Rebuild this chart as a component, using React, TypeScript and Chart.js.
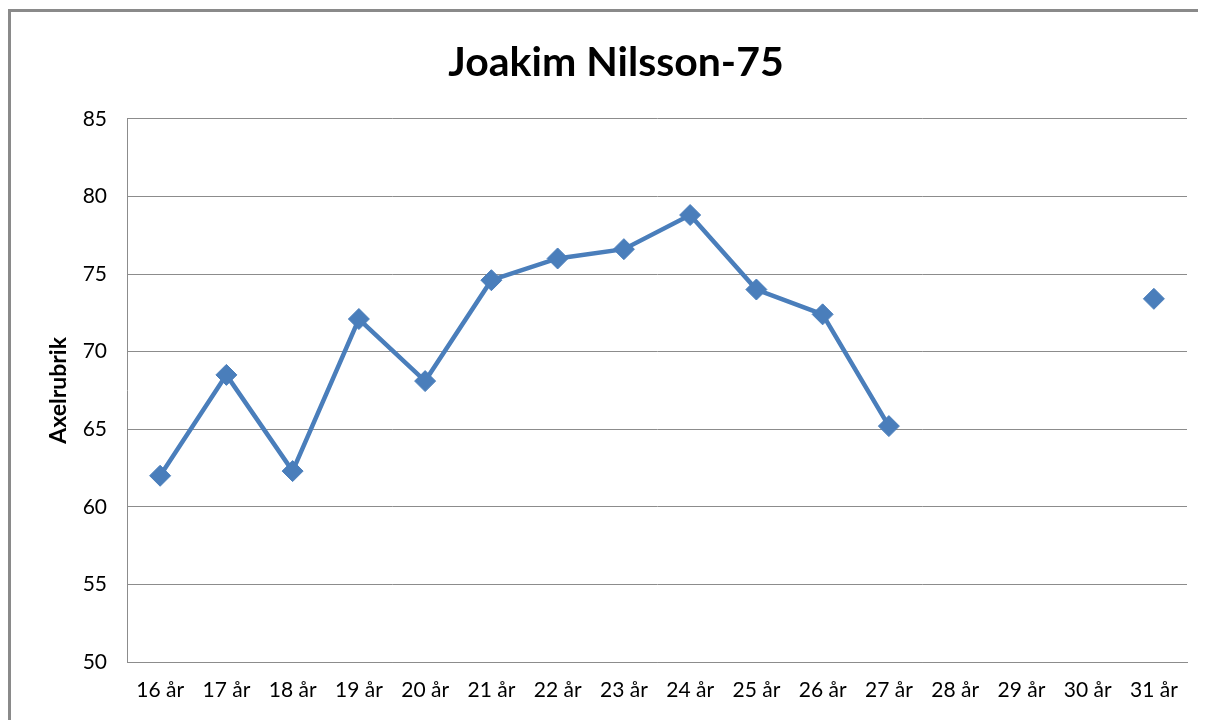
import React, { useEffect, useRef } from "react";
import { Chart, registerables } from "chart.js";

Chart.register(...registerables);

const categories = ["16 år", "17 år", "18 år", "19 år", "20 år", "21 år", "22 år", "23 år", "24 år", "25 år", "26 år", "27 år", "28 år", "29 år", "30 år", "31 år"];
const values: (number | null)[] = [62.0, 68.5, 62.3, 72.1, 68.1, 74.6, 76.0, 76.6, 78.8, 74.0, 72.4, 65.2, null, null, null, 73.4];
const yMin = 50;
const yMax = 85;
const yStep = 5;
const chartTitle = "Joakim Nilsson-75";
const yTitle = "Axelrubrik";

const FONT = "Lato, 'Open Sans', sans-serif";

export default function App() {
  const ref = useRef<HTMLCanvasElement | null>(null);
  useEffect(() => {
    if (!ref.current) return;
    const chart = new Chart(ref.current, {
      type: "line",
      data: {
        labels: categories,
        datasets: [
          {
            data: values,
            borderColor: "#4A7EBB",
            backgroundColor: "#4A7EBB",
            borderWidth: 4.5,
            pointStyle: "rectRot",
            pointRadius: 10.5,
            pointBorderWidth: 1,
            pointBackgroundColor: "#4A7EBB",
            pointBorderColor: "#4A7EBB",
            spanGaps: false,
            tension: 0,
          },
        ],
      },
      options: {
        responsive: false,
        animation: false,
        layout: { padding: { left: 37, right: 19, top: 0, bottom: 0 } },
        plugins: {
          legend: { display: false },
          tooltip: { enabled: false },
          title: {
            display: true,
            text: chartTitle,
            color: "#000",
            font: { family: FONT, size: 41, weight: "bold" },
            padding: { top: 30, bottom: 31.6 },
          },
        },
        scales: {
          x: {
            offset: true,
            grid: { display: false, drawTicks: false },
            border: { display: true, color: "#8c8c8c", width: 1 },
            ticks: { color: "#000", font: { family: FONT, size: 21 }, padding: 16, maxRotation: 0, autoSkip: false },
            afterFit: (s: any) => { s.height = 58; },
          },
          y: {
            min: yMin,
            max: yMax,
            ticks: { stepSize: yStep, color: "#000", font: { family: FONT, size: 21 }, padding: 20 },
            grid: { color: "#8c8c8c", lineWidth: 1, drawTicks: false },
            border: { display: true, color: "#8c8c8c", width: 1 },
            title: { display: true, text: yTitle, color: "#000", font: { family: FONT, size: 23, weight: "bold" }, padding: 0 },
            afterFit: (s: any) => { s.width = 82; },
          },
        },
      },
    });
    return () => chart.destroy();
  }, []);
  return (
    <div style={{ position: "relative", width: 1198, height: 712, overflow: "hidden" }}>
      <div style={{ position: "absolute", left: 0, top: 1, width: 1250, height: 760, borderLeft: "3px solid #8a8a8a", borderTop: "3px solid #8a8a8a", boxSizing: "border-box" }} />
      <canvas ref={ref} width={1198} height={712} style={{ position: "absolute", left: 0, top: 0 }} />
    </div>
  );
}
